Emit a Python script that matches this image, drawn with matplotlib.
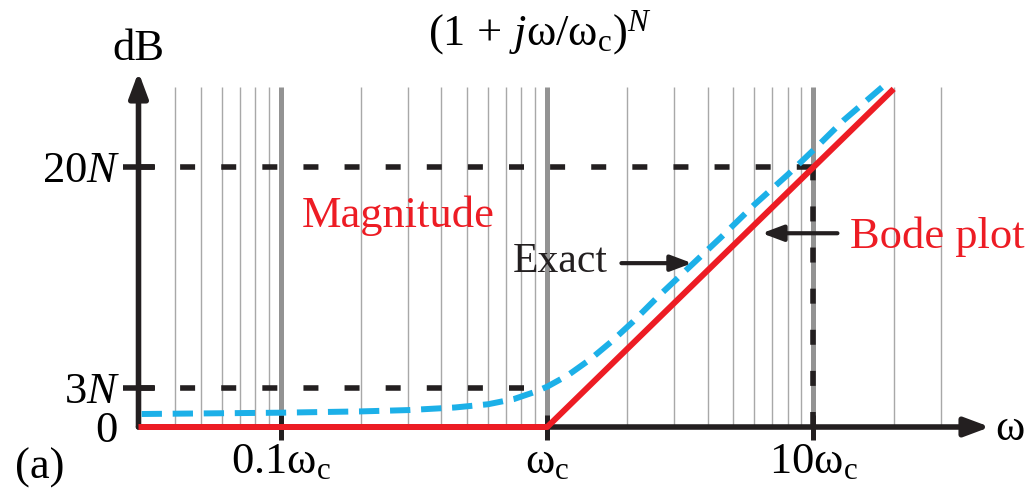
import numpy as np
import matplotlib
matplotlib.use("Agg")
import matplotlib.pyplot as plt
from matplotlib.ticker import NullLocator

plt.rcParams['font.family'] = ['Liberation Serif', 'DejaVu Serif']
plt.rcParams['mathtext.fontset'] = 'custom'
plt.rcParams['mathtext.rm'] = 'Liberation Serif'
plt.rcParams['mathtext.it'] = 'Liberation Serif:italic'

# data (omega in units of omega_c, magnitude in units of N dB)
bode_w = [0.0292, 1.0, 20.0]
bode_db = [0.0, 0.0, 26.0]
exact_w = [0.03, 0.1, 0.2, 0.3, 0.45, 0.6, 0.75, 0.9, 1.0, 1.2, 1.45, 1.75,
           2.1, 2.6, 3.3, 4.5, 6.0, 8.0, 10.0, 13.0, 18.5]
exact_db = [1.0, 1.1, 1.2, 1.3, 1.5, 1.75, 2.15, 2.7, 3.1, 4.0, 5.2, 6.6,
            8.1, 10.0, 12.0, 14.6, 17.1, 19.4, 21.3, 23.6, 26.3]
decades = [0.1, 1.0, 10.0]
minor_w = [m * d for d in [0.01, 0.1, 1.0, 10.0] for m in range(2, 10)
           if 0.035 < m * d < 35]
xtick_labels = [r'$0.1\mathrm{\omega}_\mathrm{c}$', r'$\mathrm{\omega}_\mathrm{c}$',
                r'$10\mathrm{\omega}_\mathrm{c}$']
ytick_vals = [3, 20]
ytick_labels = [r'$3\mathit{N}$', r'$20\mathit{N}$']

RED = '#ed1c24'
BLUE = '#1cb0e8'
W, H = 1034, 496

fig = plt.figure(figsize=(W / 100, H / 100), dpi=100)
ax = fig.add_axes([138.5 / W, (H - 427) / H, (990 - 138.5) / W, (427 - 72) / H])
xmin, xmax = 0.0292, 46.0
ax.set_xscale('log')
ax.set_xlim(xmin, xmax)
ax.set_ylim(0, 27.3)
for s in ax.spines.values():
    s.set_visible(False)
ax.patch.set_alpha(0)

# grid
ax.vlines(minor_w, 0, 26.15, color='#a8a8a8', lw=1.0, zorder=1)
ax.vlines(decades, 0, 26.15, color='#939393', lw=3.6, zorder=1)

# dashed guides
dash = dict(color='#231f20', lw=4, dashes=(2.7, 4.7), zorder=2)
ax.plot([xmin, 10], [20, 20], **dash)
ax.plot([xmin, 1], [3, 3], **dash)
ax.plot([10, 10], [0, 20], **dash)

# axes with arrows
arr = dict(arrowstyle='-|>,head_length=0.75,head_width=0.28', color='#231f20',
           lw=4, mutation_scale=20, shrinkA=0, shrinkB=0)
ax.annotate('', xy=(xmax, 0), xytext=(xmin, 0), arrowprops=arr, zorder=3,
            annotation_clip=False)
ax.annotate('', xy=(xmin, 27.3), xytext=(xmin, 0), arrowprops=arr, zorder=3,
            annotation_clip=False)

# curves
ax.plot(exact_w, exact_db, color=BLUE, lw=4.3, dashes=(3.4, 1.8), zorder=4,
        clip_on=False)
ax.plot(bode_w, bode_db, color=RED, lw=4.3, zorder=5, clip_on=False,
        solid_capstyle='butt')

# ticks
ax.set_xticks(decades)
ax.set_xticklabels(xtick_labels)
ax.xaxis.set_minor_locator(NullLocator())
ax.set_yticks(ytick_vals)
ax.set_yticklabels(ytick_labels)
ax.tick_params(axis='x', direction='inout', length=18, width=3.6,
               color='#231f20', labelsize=32, pad=2)
ax.tick_params(axis='y', direction='inout', length=23, width=4,
               color='#231f20', labelsize=32, pad=2)
ax.text(-0.025, 0, '0', transform=ax.get_yaxis_transform(), ha='right',
        va='center_baseline', fontsize=32)

# annotations
ax.text(0.12, 15.4, 'Magnitude', color=RED, fontsize=32, va='baseline')
ax.text(13.7, 13.8, 'Bode plot', color=RED, fontsize=32, va='baseline')
ax.text(0.74, 11.9, 'Exact', color='#231f20', fontsize=30, va='baseline')
ptr = dict(arrowstyle='-|>,head_length=0.8,head_width=0.3', color='#231f20',
           lw=3, mutation_scale=16, shrinkA=0, shrinkB=0)
ax.annotate('', xy=(3.5, 12.6), xytext=(1.9, 12.6), arrowprops=ptr, zorder=6)
ax.annotate('', xy=(6.4, 14.9), xytext=(12.3, 14.9), arrowprops=ptr, zorder=6)

# outer labels
fig.text(428 / W, 1 - 45 / H,
         r'$(1\,+\,\mathit{j}\mathrm{\omega}/\mathrm{\omega}_\mathrm{c})^{\mathit{N}}$',
         fontsize=32, va='baseline', ha='left')
fig.text(112 / W, 1 - 60 / H, 'dB', fontsize=32, va='baseline', ha='left')
fig.text(995 / W, 1 - 440 / H, 'ω', fontsize=32, va='baseline', ha='left')
fig.text(15 / W, 1 - 479 / H, '(a)', fontsize=32, va='baseline', ha='left')

fig.savefig('out.png', dpi=100)
